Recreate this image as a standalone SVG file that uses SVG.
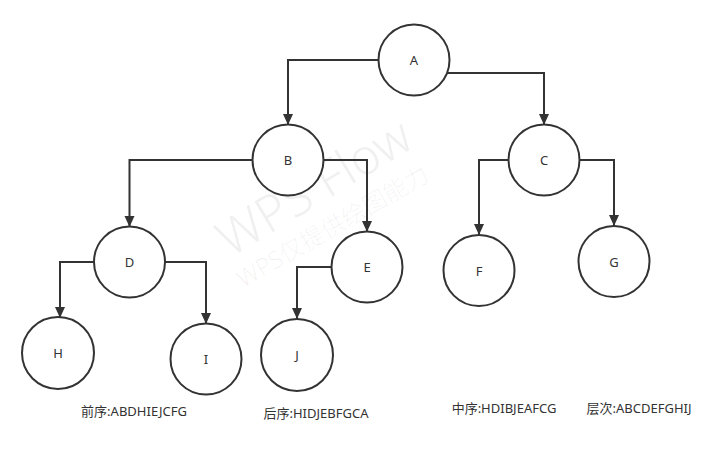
<svg xmlns="http://www.w3.org/2000/svg" width="724" height="464" viewBox="0 0 724 464">
<style>
.node circle{fill:#fff;stroke:#333;stroke-width:2}
.node text,.label{font-family:"Noto Sans","Noto Sans CJK SC",sans-serif;font-size:13px;fill:#333;text-anchor:middle;dominant-baseline:central}
.edges path{fill:none;stroke:#333;stroke-width:2}
.wm{font-family:"Noto Sans","Noto Sans CJK SC",sans-serif;fill:#000;fill-opacity:0.06;font-weight:300}
</style>
<defs>
<marker id="arr" markerUnits="userSpaceOnUse" markerWidth="12" markerHeight="12" viewBox="0 0 12 12" refX="11" refY="6" orient="auto">
<path d="M0,1 L11,6 L0,11 Z" fill="#333"/>
</marker>
</defs>
<rect width="724" height="464" fill="#fff"/>
<g id="watermark">
<text class="wm" x="230" y="258" font-size="50" transform="rotate(-31 230 258)">WPS Flow</text>
<text class="wm" x="243" y="288" font-size="24" transform="rotate(-30 243 288)">WPS仅提供绘图能力</text>
</g>
<g class="edges" id="connectors">
<path d="M378,60 H288 V125" marker-end="url(#arr)"/>
<path d="M447,73 H544 V125" marker-end="url(#arr)"/>
<path d="M253,160 H129.5 V227" marker-end="url(#arr)"/>
<path d="M323,160 H367 V232" marker-end="url(#arr)"/>
<path d="M509,160 H479 V235" marker-end="url(#arr)"/>
<path d="M579,160 H614 V226" marker-end="url(#arr)"/>
<path d="M94,262 H60 V318" marker-end="url(#arr)"/>
<path d="M165,262 H206 V324" marker-end="url(#arr)"/>
<path d="M332,267 H297 V319" marker-end="url(#arr)"/>
</g>
<g class="node" id="node-A"><circle cx="414" cy="60" r="35.5"/><text x="414" y="60">A</text></g>
<g class="node" id="node-B"><circle cx="288" cy="160" r="35.5"/><text x="288" y="160">B</text></g>
<g class="node" id="node-C"><circle cx="544" cy="160" r="35.5"/><text x="544" y="160">C</text></g>
<g class="node" id="node-D"><circle cx="129.5" cy="262" r="35.5"/><text x="129.5" y="262">D</text></g>
<g class="node" id="node-E"><circle cx="367" cy="267" r="35.5"/><text x="367" y="267">E</text></g>
<g class="node" id="node-F"><circle cx="479" cy="270.5" r="35.5"/><text x="479" y="270.5">F</text></g>
<g class="node" id="node-G"><circle cx="614" cy="261.5" r="35.5"/><text x="614" y="261.5">G</text></g>
<g class="node" id="node-H"><circle cx="58" cy="353" r="36"/><text x="58" y="353">H</text></g>
<g class="node" id="node-I"><circle cx="206" cy="359" r="35.5"/><text x="206" y="359">I</text></g>
<g class="node" id="node-J"><circle cx="297" cy="355" r="36"/><text x="297" y="355">J</text></g>
<g id="labels">
<text class="label" x="134" y="411">前序:ABDHIEJCFG</text>
<text class="label" x="316" y="413">后序:HIDJEBFGCA</text>
<text class="label" x="504" y="408">中序:HDIBJEAFCG</text>
<text class="label" x="639" y="408">层次:ABCDEFGHIJ</text>
</g>
</svg>
